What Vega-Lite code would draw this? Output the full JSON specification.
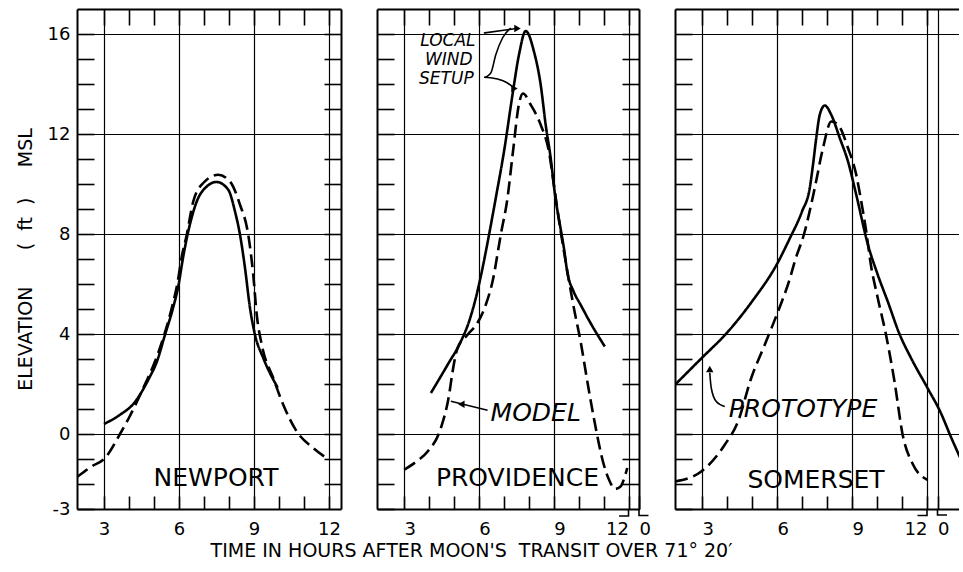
{
  "$schema": "https://vega.github.io/schema/vega-lite/v6.json",
  "background": "white",
  "padding": {"left": 16, "top": 8, "right": 0, "bottom": 0},
  "bounds": "flush",
  "spacing": 36,
  "title": {
    "text": "TIME IN HOURS AFTER MOON'S\u00a0\u00a0TRANSIT OVER 71° 20′",
    "orient": "bottom",
    "anchor": "middle",
    "font": "DejaVu Sans",
    "fontSize": 19,
    "fontWeight": "normal",
    "color": "black",
    "offset": 4,
    "dx": -16
  },
  "datasets": {
    "curves": [
      {"s": "Newport", "m": "PROTOTYPE", "h": 3.0, "ft": 0.4},
      {"s": "Newport", "m": "PROTOTYPE", "h": 3.64, "ft": 0.77},
      {"s": "Newport", "m": "PROTOTYPE", "h": 4.17, "ft": 1.2},
      {"s": "Newport", "m": "PROTOTYPE", "h": 4.84, "ft": 2.3},
      {"s": "Newport", "m": "PROTOTYPE", "h": 5.1, "ft": 2.85},
      {"s": "Newport", "m": "PROTOTYPE", "h": 5.44, "ft": 3.97},
      {"s": "Newport", "m": "PROTOTYPE", "h": 5.75, "ft": 5.0},
      {"s": "Newport", "m": "PROTOTYPE", "h": 5.97, "ft": 5.9},
      {"s": "Newport", "m": "PROTOTYPE", "h": 6.17, "ft": 7.1},
      {"s": "Newport", "m": "PROTOTYPE", "h": 6.37, "ft": 8.1},
      {"s": "Newport", "m": "PROTOTYPE", "h": 6.71, "ft": 9.3},
      {"s": "Newport", "m": "PROTOTYPE", "h": 7.11, "ft": 9.9},
      {"s": "Newport", "m": "PROTOTYPE", "h": 7.5, "ft": 10.08},
      {"s": "Newport", "m": "PROTOTYPE", "h": 7.97, "ft": 9.77},
      {"s": "Newport", "m": "PROTOTYPE", "h": 8.24, "ft": 8.9},
      {"s": "Newport", "m": "PROTOTYPE", "h": 8.44, "ft": 7.97},
      {"s": "Newport", "m": "PROTOTYPE", "h": 8.64, "ft": 6.64},
      {"s": "Newport", "m": "PROTOTYPE", "h": 8.84, "ft": 5.04},
      {"s": "Newport", "m": "PROTOTYPE", "h": 9.04, "ft": 3.97},
      {"s": "Newport", "m": "PROTOTYPE", "h": 9.37, "ft": 3.04},
      {"s": "Newport", "m": "PROTOTYPE", "h": 9.95, "ft": 1.85},

      {"s": "Newport", "m": "MODEL", "h": 1.92, "ft": -1.72},
      {"s": "Newport", "m": "MODEL", "h": 2.5, "ft": -1.3},
      {"s": "Newport", "m": "MODEL", "h": 3.04, "ft": -0.96},
      {"s": "Newport", "m": "MODEL", "h": 3.64, "ft": 0.0},
      {"s": "Newport", "m": "MODEL", "h": 4.0, "ft": 0.65},
      {"s": "Newport", "m": "MODEL", "h": 4.57, "ft": 1.84},
      {"s": "Newport", "m": "MODEL", "h": 5.0, "ft": 2.8},
      {"s": "Newport", "m": "MODEL", "h": 5.37, "ft": 3.84},
      {"s": "Newport", "m": "MODEL", "h": 5.7, "ft": 5.0},
      {"s": "Newport", "m": "MODEL", "h": 5.95, "ft": 6.1},
      {"s": "Newport", "m": "MODEL", "h": 6.1, "ft": 7.04},
      {"s": "Newport", "m": "MODEL", "h": 6.31, "ft": 7.97},
      {"s": "Newport", "m": "MODEL", "h": 6.57, "ft": 9.3},
      {"s": "Newport", "m": "MODEL", "h": 6.97, "ft": 10.04},
      {"s": "Newport", "m": "MODEL", "h": 7.57, "ft": 10.37},
      {"s": "Newport", "m": "MODEL", "h": 8.04, "ft": 10.1},
      {"s": "Newport", "m": "MODEL", "h": 8.44, "ft": 9.17},
      {"s": "Newport", "m": "MODEL", "h": 8.77, "ft": 7.97},
      {"s": "Newport", "m": "MODEL", "h": 8.97, "ft": 6.37},
      {"s": "Newport", "m": "MODEL", "h": 9.11, "ft": 4.77},
      {"s": "Newport", "m": "MODEL", "h": 9.31, "ft": 3.57},
      {"s": "Newport", "m": "MODEL", "h": 9.77, "ft": 2.24},
      {"s": "Newport", "m": "MODEL", "h": 10.17, "ft": 1.17},
      {"s": "Newport", "m": "MODEL", "h": 10.71, "ft": 0.1},
      {"s": "Newport", "m": "MODEL", "h": 11.37, "ft": -0.56},
      {"s": "Newport", "m": "MODEL", "h": 12.0, "ft": -1.03},

      {"s": "Providence", "m": "PROTOTYPE", "h": 4.08, "ft": 1.64},
      {"s": "Providence", "m": "PROTOTYPE", "h": 4.75, "ft": 2.77},
      {"s": "Providence", "m": "PROTOTYPE", "h": 5.28, "ft": 3.7},
      {"s": "Providence", "m": "PROTOTYPE", "h": 5.61, "ft": 4.5},
      {"s": "Providence", "m": "PROTOTYPE", "h": 5.88, "ft": 5.44},
      {"s": "Providence", "m": "PROTOTYPE", "h": 6.15, "ft": 6.64},
      {"s": "Providence", "m": "PROTOTYPE", "h": 6.41, "ft": 7.97},
      {"s": "Providence", "m": "PROTOTYPE", "h": 6.68, "ft": 9.44},
      {"s": "Providence", "m": "PROTOTYPE", "h": 7.01, "ft": 11.3},
      {"s": "Providence", "m": "PROTOTYPE", "h": 7.35, "ft": 13.57},
      {"s": "Providence", "m": "PROTOTYPE", "h": 7.61, "ft": 15.17},
      {"s": "Providence", "m": "PROTOTYPE", "h": 7.88, "ft": 16.12},
      {"s": "Providence", "m": "PROTOTYPE", "h": 8.21, "ft": 15.3},
      {"s": "Providence", "m": "PROTOTYPE", "h": 8.48, "ft": 13.97},
      {"s": "Providence", "m": "PROTOTYPE", "h": 8.68, "ft": 12.37},
      {"s": "Providence", "m": "PROTOTYPE", "h": 8.88, "ft": 11.04},
      {"s": "Providence", "m": "PROTOTYPE", "h": 9.05, "ft": 9.6},
      {"s": "Providence", "m": "PROTOTYPE", "h": 9.28, "ft": 8.2},
      {"s": "Providence", "m": "PROTOTYPE", "h": 9.41, "ft": 7.44},
      {"s": "Providence", "m": "PROTOTYPE", "h": 9.55, "ft": 6.45},
      {"s": "Providence", "m": "PROTOTYPE", "h": 9.8, "ft": 5.7},
      {"s": "Providence", "m": "PROTOTYPE", "h": 10.08, "ft": 5.17},
      {"s": "Providence", "m": "PROTOTYPE", "h": 10.5, "ft": 4.4},
      {"s": "Providence", "m": "PROTOTYPE", "h": 11.05, "ft": 3.5},

      {"s": "Providence", "m": "MODEL", "h": 3.01, "ft": -1.43},
      {"s": "Providence", "m": "MODEL", "h": 3.5, "ft": -1.1},
      {"s": "Providence", "m": "MODEL", "h": 3.95, "ft": -0.7},
      {"s": "Providence", "m": "MODEL", "h": 4.48, "ft": 0.24},
      {"s": "Providence", "m": "MODEL", "h": 4.81, "ft": 1.57},
      {"s": "Providence", "m": "MODEL", "h": 4.95, "ft": 2.5},
      {"s": "Providence", "m": "MODEL", "h": 5.15, "ft": 3.44},
      {"s": "Providence", "m": "MODEL", "h": 5.55, "ft": 3.97},
      {"s": "Providence", "m": "MODEL", "h": 5.95, "ft": 4.45},
      {"s": "Providence", "m": "MODEL", "h": 6.28, "ft": 5.17},
      {"s": "Providence", "m": "MODEL", "h": 6.55, "ft": 6.1},
      {"s": "Providence", "m": "MODEL", "h": 6.88, "ft": 7.97},
      {"s": "Providence", "m": "MODEL", "h": 7.15, "ft": 9.44},
      {"s": "Providence", "m": "MODEL", "h": 7.37, "ft": 11.3},
      {"s": "Providence", "m": "MODEL", "h": 7.61, "ft": 13.2},
      {"s": "Providence", "m": "MODEL", "h": 7.77, "ft": 13.62},
      {"s": "Providence", "m": "MODEL", "h": 8.08, "ft": 13.17},
      {"s": "Providence", "m": "MODEL", "h": 8.48, "ft": 12.37},
      {"s": "Providence", "m": "MODEL", "h": 8.81, "ft": 11.3},
      {"s": "Providence", "m": "MODEL", "h": 9.01, "ft": 9.97},
      {"s": "Providence", "m": "MODEL", "h": 9.18, "ft": 8.77},
      {"s": "Providence", "m": "MODEL", "h": 9.55, "ft": 6.5},
      {"s": "Providence", "m": "MODEL", "h": 9.81, "ft": 5.04},
      {"s": "Providence", "m": "MODEL", "h": 10.08, "ft": 3.7},
      {"s": "Providence", "m": "MODEL", "h": 10.35, "ft": 2.1},
      {"s": "Providence", "m": "MODEL", "h": 10.61, "ft": 0.64},
      {"s": "Providence", "m": "MODEL", "h": 11.01, "ft": -1.23},
      {"s": "Providence", "m": "MODEL", "h": 11.25, "ft": -1.9},
      {"s": "Providence", "m": "MODEL", "h": 11.45, "ft": -2.2},
      {"s": "Providence", "m": "MODEL", "h": 11.68, "ft": -2.1},
      {"s": "Providence", "m": "MODEL", "h": 11.85, "ft": -1.7},
      {"s": "Providence", "m": "MODEL", "h": 11.95, "ft": -1.36},

      {"s": "Somerset", "m": "PROTOTYPE", "h": 1.92, "ft": 1.97},
      {"s": "Somerset", "m": "PROTOTYPE", "h": 3.0, "ft": 3.05},
      {"s": "Somerset", "m": "PROTOTYPE", "h": 4.0, "ft": 4.05},
      {"s": "Somerset", "m": "PROTOTYPE", "h": 5.0, "ft": 5.3},
      {"s": "Somerset", "m": "PROTOTYPE", "h": 6.0, "ft": 6.8},
      {"s": "Somerset", "m": "PROTOTYPE", "h": 6.5, "ft": 7.8},
      {"s": "Somerset", "m": "PROTOTYPE", "h": 7.0, "ft": 8.9},
      {"s": "Somerset", "m": "PROTOTYPE", "h": 7.31, "ft": 9.84},
      {"s": "Somerset", "m": "PROTOTYPE", "h": 7.44, "ft": 10.77},
      {"s": "Somerset", "m": "PROTOTYPE", "h": 7.57, "ft": 11.84},
      {"s": "Somerset", "m": "PROTOTYPE", "h": 7.71, "ft": 12.77},
      {"s": "Somerset", "m": "PROTOTYPE", "h": 7.91, "ft": 13.14},
      {"s": "Somerset", "m": "PROTOTYPE", "h": 8.17, "ft": 12.77},
      {"s": "Somerset", "m": "PROTOTYPE", "h": 8.51, "ft": 11.84},
      {"s": "Somerset", "m": "PROTOTYPE", "h": 8.84, "ft": 10.9},
      {"s": "Somerset", "m": "PROTOTYPE", "h": 9.17, "ft": 9.57},
      {"s": "Somerset", "m": "PROTOTYPE", "h": 9.63, "ft": 7.6},
      {"s": "Somerset", "m": "PROTOTYPE", "h": 10.03, "ft": 6.37},
      {"s": "Somerset", "m": "PROTOTYPE", "h": 10.43, "ft": 5.3},
      {"s": "Somerset", "m": "PROTOTYPE", "h": 10.9, "ft": 4.0},
      {"s": "Somerset", "m": "PROTOTYPE", "h": 11.36, "ft": 3.04},
      {"s": "Somerset", "m": "PROTOTYPE", "h": 12.02, "ft": 1.84},
      {"s": "Somerset", "m": "PROTOTYPE", "h": 12.55, "ft": 0.85},
      {"s": "Somerset", "m": "PROTOTYPE", "h": 12.95, "ft": -0.1},
      {"s": "Somerset", "m": "PROTOTYPE", "h": 13.35, "ft": -1.0},

      {"s": "Somerset", "m": "MODEL", "h": 1.92, "ft": -1.9},
      {"s": "Somerset", "m": "MODEL", "h": 2.97, "ft": -1.5},
      {"s": "Somerset", "m": "MODEL", "h": 3.91, "ft": -0.43},
      {"s": "Somerset", "m": "MODEL", "h": 4.44, "ft": 0.5},
      {"s": "Somerset", "m": "MODEL", "h": 4.97, "ft": 2.24},
      {"s": "Somerset", "m": "MODEL", "h": 5.51, "ft": 3.57},
      {"s": "Somerset", "m": "MODEL", "h": 6.04, "ft": 4.9},
      {"s": "Somerset", "m": "MODEL", "h": 6.51, "ft": 6.2},
      {"s": "Somerset", "m": "MODEL", "h": 6.71, "ft": 6.9},
      {"s": "Somerset", "m": "MODEL", "h": 7.11, "ft": 8.1},
      {"s": "Somerset", "m": "MODEL", "h": 7.51, "ft": 9.84},
      {"s": "Somerset", "m": "MODEL", "h": 7.84, "ft": 11.44},
      {"s": "Somerset", "m": "MODEL", "h": 8.17, "ft": 12.5},
      {"s": "Somerset", "m": "MODEL", "h": 8.44, "ft": 12.37},
      {"s": "Somerset", "m": "MODEL", "h": 8.84, "ft": 11.44},
      {"s": "Somerset", "m": "MODEL", "h": 9.17, "ft": 10.37},
      {"s": "Somerset", "m": "MODEL", "h": 9.37, "ft": 9.3},
      {"s": "Somerset", "m": "MODEL", "h": 9.57, "ft": 8.1},
      {"s": "Somerset", "m": "MODEL", "h": 9.75, "ft": 6.8},
      {"s": "Somerset", "m": "MODEL", "h": 10.03, "ft": 5.44},
      {"s": "Somerset", "m": "MODEL", "h": 10.36, "ft": 3.97},
      {"s": "Somerset", "m": "MODEL", "h": 10.7, "ft": 2.1},
      {"s": "Somerset", "m": "MODEL", "h": 11.03, "ft": -0.05},
      {"s": "Somerset", "m": "MODEL", "h": 11.43, "ft": -1.2},
      {"s": "Somerset", "m": "MODEL", "h": 12.01, "ft": -1.83}
    ],
    "names": [
      {"s": "Newport", "name": "NEWPORT", "h": 7.48, "ft": -1.76},
      {"s": "Providence", "name": "PROVIDENCE", "h": 7.55, "ft": -1.76},
      {"s": "Somerset", "name": "SOMERSET", "h": 7.56, "ft": -1.83}
    ],
    "notes": [
      {"s": "Providence", "kind": "key", "text": "MODEL", "h": 8.28, "ft": 0.84},
      {"s": "Somerset", "kind": "key", "text": "PROTOTYPE", "h": 7.04, "ft": 1.0},
      {"s": "Providence", "kind": "setup", "text": "LOCAL", "h": 4.76, "ft": 15.74},
      {"s": "Providence", "kind": "setup", "text": "WIND", "h": 4.8, "ft": 14.97},
      {"s": "Providence", "kind": "setup", "text": "SETUP", "h": 4.7, "ft": 14.2}
    ],
    "leaders": [
      {"s": "Providence", "id": "local", "k": 0, "h": 6.2, "ft": 16.04},
      {"s": "Providence", "id": "local", "k": 1, "h": 7.0, "ft": 16.15},
      {"s": "Providence", "id": "local", "k": 2, "h": 7.5, "ft": 16.22},
      {"s": "Providence", "id": "setup", "k": 0, "h": 7.28, "ft": 16.24},
      {"s": "Providence", "id": "setup", "k": 1, "h": 6.95, "ft": 15.84},
      {"s": "Providence", "id": "setup", "k": 2, "h": 6.68, "ft": 15.17},
      {"s": "Providence", "id": "setup", "k": 3, "h": 6.48, "ft": 14.44},
      {"s": "Providence", "id": "setup", "k": 4, "h": 6.21, "ft": 14.27},
      {"s": "Providence", "id": "setup", "k": 5, "h": 6.75, "ft": 14.2},
      {"s": "Providence", "id": "setup", "k": 6, "h": 7.15, "ft": 14.04},
      {"s": "Providence", "id": "setup", "k": 7, "h": 7.41, "ft": 13.84},
      {"s": "Providence", "id": "model", "k": 0, "h": 4.88, "ft": 1.31},
      {"s": "Providence", "id": "model", "k": 1, "h": 6.35, "ft": 0.95},
      {"s": "Somerset", "id": "proto", "k": 0, "h": 3.91, "ft": 1.1},
      {"s": "Somerset", "id": "proto", "k": 1, "h": 3.57, "ft": 1.3},
      {"s": "Somerset", "id": "proto", "k": 2, "h": 3.37, "ft": 1.84},
      {"s": "Somerset", "id": "proto", "k": 3, "h": 3.31, "ft": 2.45},
      {"s": "Providence", "id": "b12", "k": 0, "h": 11.62, "ft": -3.28},
      {"s": "Providence", "id": "b12", "k": 1, "h": 12.0, "ft": -3.28},
      {"s": "Providence", "id": "b12", "k": 2, "h": 12.0, "ft": -3.0},
      {"s": "Providence", "id": "b0", "k": 0, "h": 12.42, "ft": -3.0},
      {"s": "Providence", "id": "b0", "k": 1, "h": 12.42, "ft": -3.26},
      {"s": "Providence", "id": "b0", "k": 2, "h": 12.8, "ft": -3.26},
      {"s": "Somerset", "id": "b12", "k": 0, "h": 11.62, "ft": -3.26},
      {"s": "Somerset", "id": "b12", "k": 1, "h": 12.0, "ft": -3.26},
      {"s": "Somerset", "id": "b12", "k": 2, "h": 12.0, "ft": -3.0},
      {"s": "Somerset", "id": "b0", "k": 0, "h": 12.42, "ft": -3.0},
      {"s": "Somerset", "id": "b0", "k": 1, "h": 12.42, "ft": -3.24},
      {"s": "Somerset", "id": "b0", "k": 2, "h": 12.8, "ft": -3.24}
    ],
    "tips": [
      {"s": "Providence", "dir": "right", "h": 7.55, "ft": 16.22},
      {"s": "Providence", "dir": "right", "h": 7.43, "ft": 13.82},
      {"s": "Providence", "dir": "left", "h": 5.3, "ft": 1.19},
      {"s": "Somerset", "dir": "up", "h": 3.31, "ft": 2.6}
    ]
  },
  "hconcat": [
    {
      "width": 264,
      "height": 500,
      "layer": [
        {
          "data": {"name": "curves"},
          "transform": [{"filter": "datum.s === 'Newport'"}],
          "mark": {"type": "line", "interpolate": "monotone", "strokeWidth": 2.6, "color": "black", "clip": true},
          "encoding": {
            "x": {"field": "h", "type": "quantitative",
              "scale": {"domain": [1.92, 12.48], "nice": false, "zero": false},
              "axis": {"orient": "bottom", "values": [3, 4, 5, 6, 7, 8, 9, 10, 11, 12],
                "labelExpr": "datum.value % 3 === 0 ? '' + datum.value : ''",
                "grid": true,
                "gridOpacity": {"condition": {"test": "datum.value % 3 === 0", "value": 1}, "value": 0},
                "tickSize": -13, "labelPadding": 24, "title": null}},
            "y": {"field": "ft", "type": "quantitative",
              "scale": {"domain": [-3, 17], "nice": false, "zero": false},
              "axis": {"orient": "left", "values": [-3, -2, -1, 0, 1, 2, 3, 4, 5, 6, 7, 8, 9, 10, 11, 12, 13, 14, 15, 16],
                "labelExpr": "(datum.value % 4 === 0 || datum.value === -3) ? '' + datum.value : ''",
                "grid": true,
                "gridOpacity": {"condition": {"test": "datum.value % 4 === 0", "value": 1}, "value": 0},
                "tickSize": -17, "labelPadding": 24,
                "title": "\u00a0\u00a0\u00a0ELEVATION\u00a0\u00a0\u00a0\u00a0\u00a0\u00a0(\u00a0\u00a0ft\u00a0\u00a0)\u00a0\u00a0\u00a0\u00a0\u00a0MSL",
                "titlePadding": 12}},
            "strokeDash": {"field": "m", "type": "nominal",
              "scale": {"domain": ["PROTOTYPE", "MODEL"], "range": [[1, 0], [13, 6]]}, "legend": null}
          }
        },
        {
          "data": {"name": "names"},
          "transform": [{"filter": "datum.s === 'Newport'"}],
          "mark": {"type": "text", "font": "DejaVu Sans", "fontSize": 25, "color": "black"},
          "encoding": {
            "x": {"field": "h", "type": "quantitative",
              "scale": {"domain": [1.92, 12.48], "nice": false, "zero": false},
              "axis": {"orient": "top", "values": [3, 4, 5, 6, 7, 8, 9, 10, 11, 12], "labels": false, "grid": false, "tickSize": -16, "title": null}},
            "y": {"field": "ft", "type": "quantitative",
              "scale": {"domain": [-3, 17], "nice": false, "zero": false},
              "axis": {"orient": "right", "values": [-2, -1, 0, 1, 2, 3, 4, 5, 6, 7, 8, 9, 10, 11, 12, 13, 14, 15, 16], "labels": false, "grid": false, "tickSize": -17, "title": null}},
            "text": {"field": "name"}
          }
        }
      ]
    },
    {
      "width": 262,
      "height": 500,
      "layer": [
        {
          "data": {"name": "curves"},
          "transform": [{"filter": "datum.s === 'Providence'"}],
          "mark": {"type": "line", "interpolate": "monotone", "strokeWidth": 2.6, "color": "black", "clip": true},
          "encoding": {
            "x": {"field": "h", "type": "quantitative",
              "scale": {"domain": [1.92, 12.42], "nice": false, "zero": false},
              "axis": {"orient": "bottom", "values": [3, 4, 5, 6, 7, 8, 9, 10, 11, 12, 12.42],
                "labelExpr": "datum.value === 12.42 ? '0' : datum.value % 3 === 0 ? '' + datum.value : ''",
                "labelAlign": {"condition": {"test": "datum.value === 12", "value": "right"}, "value": {"expr": "datum.value === 12.42 ? 'left' : 'center'"}},
                "grid": true,
                "gridOpacity": {"condition": {"test": "datum.value % 3 === 0", "value": 1}, "value": 0},
                "tickSize": -13, "labelPadding": 24, "title": null}},
            "y": {"field": "ft", "type": "quantitative",
              "scale": {"domain": [-3, 17], "nice": false, "zero": false},
              "axis": {"orient": "left", "values": [-3, -2, -1, 0, 1, 2, 3, 4, 5, 6, 7, 8, 9, 10, 11, 12, 13, 14, 15, 16],
                "labels": false,
                "grid": true,
                "gridOpacity": {"condition": {"test": "datum.value % 4 === 0", "value": 1}, "value": 0},
                "tickSize": -17, "title": null}},
            "strokeDash": {"field": "m", "type": "nominal",
              "scale": {"domain": ["PROTOTYPE", "MODEL"], "range": [[1, 0], [13, 6]]}, "legend": null}
          }
        },
        {
          "data": {"name": "names"},
          "transform": [{"filter": "datum.s === 'Providence'"}],
          "mark": {"type": "text", "font": "DejaVu Sans", "fontSize": 25, "color": "black"},
          "encoding": {
            "x": {"field": "h", "type": "quantitative",
              "scale": {"domain": [1.92, 12.42], "nice": false, "zero": false},
              "axis": {"orient": "top", "values": [3, 4, 5, 6, 7, 8, 9, 10, 11, 12], "labels": false, "grid": false, "tickSize": -16, "title": null}},
            "y": {"field": "ft", "type": "quantitative",
              "scale": {"domain": [-3, 17], "nice": false, "zero": false},
              "axis": {"orient": "right", "values": [-2, -1, 0, 1, 2, 3, 4, 5, 6, 7, 8, 9, 10, 11, 12, 13, 14, 15, 16], "labels": false, "grid": false, "tickSize": -17, "title": null}},
            "text": {"field": "name"}
          }
        },
        {
          "data": {"name": "notes"},
          "transform": [{"filter": "datum.s === 'Providence' && datum.kind === 'key'"}],
          "mark": {"type": "text", "font": "DejaVu Sans", "fontSize": 25, "fontStyle": "italic", "color": "black"},
          "encoding": {
            "x": {"field": "h", "type": "quantitative", "axis": null},
            "y": {"field": "ft", "type": "quantitative", "axis": null},
            "text": {"field": "text"}
          }
        },
        {
          "data": {"name": "notes"},
          "transform": [{"filter": "datum.s === 'Providence' && datum.kind === 'setup'"}],
          "mark": {"type": "text", "font": "DejaVu Sans", "fontSize": 17, "fontStyle": "italic", "color": "black"},
          "encoding": {
            "x": {"field": "h", "type": "quantitative", "axis": null},
            "y": {"field": "ft", "type": "quantitative", "axis": null},
            "text": {"field": "text"}
          }
        },
        {
          "data": {"name": "leaders"},
          "transform": [{"filter": "datum.s === 'Providence'"}],
          "mark": {"type": "line", "interpolate": "monotone", "strokeWidth": 1.6, "color": "black"},
          "encoding": {
            "x": {"field": "h", "type": "quantitative", "axis": null},
            "y": {"field": "ft", "type": "quantitative", "axis": null},
            "detail": {"field": "id"},
            "order": {"field": "k"}
          }
        },
        {
          "data": {"name": "tips"},
          "transform": [{"filter": "datum.s === 'Providence'"}],
          "mark": {"type": "point", "filled": true, "color": "black", "opacity": 1, "size": 55},
          "encoding": {
            "x": {"field": "h", "type": "quantitative", "axis": null},
            "y": {"field": "ft", "type": "quantitative", "axis": null},
            "shape": {"field": "dir", "type": "nominal",
              "scale": {"domain": ["left", "right", "up"], "range": ["triangle-left", "triangle-right", "triangle-up"]}, "legend": null}
          }
        }
      ]
    },
    {
      "width": 284,
      "height": 500,
      "layer": [
        {
          "data": {"name": "curves"},
          "transform": [{"filter": "datum.s === 'Somerset'"}],
          "mark": {"type": "line", "interpolate": "monotone", "strokeWidth": 2.6, "color": "black", "clip": true},
          "encoding": {
            "x": {"field": "h", "type": "quantitative",
              "scale": {"domain": [1.92, 13.28], "nice": false, "zero": false},
              "axis": {"orient": "bottom", "values": [3, 4, 5, 6, 7, 8, 9, 10, 11, 12, 12.42],
                "labelExpr": "datum.value === 12.42 ? '0' : datum.value % 3 === 0 ? '' + datum.value : ''",
                "labelAlign": {"condition": {"test": "datum.value === 12", "value": "right"}, "value": {"expr": "datum.value === 12.42 ? 'left' : 'center'"}},
                "grid": true,
                "gridOpacity": {"condition": {"test": "datum.value % 3 === 0 || datum.value === 12.42", "value": 1}, "value": 0},
                "tickSize": -13, "labelPadding": 24, "title": null}},
            "y": {"field": "ft", "type": "quantitative",
              "scale": {"domain": [-3, 17], "nice": false, "zero": false},
              "axis": {"orient": "left", "values": [-3, -2, -1, 0, 1, 2, 3, 4, 5, 6, 7, 8, 9, 10, 11, 12, 13, 14, 15, 16],
                "labels": false,
                "grid": true,
                "gridOpacity": {"condition": {"test": "datum.value % 4 === 0", "value": 1}, "value": 0},
                "tickSize": -17, "title": null}},
            "strokeDash": {"field": "m", "type": "nominal",
              "scale": {"domain": ["PROTOTYPE", "MODEL"], "range": [[1, 0], [13, 6]]}, "legend": null}
          }
        },
        {
          "data": {"name": "names"},
          "transform": [{"filter": "datum.s === 'Somerset'"}],
          "mark": {"type": "text", "font": "DejaVu Sans", "fontSize": 25, "color": "black"},
          "encoding": {
            "x": {"field": "h", "type": "quantitative",
              "scale": {"domain": [1.92, 13.28], "nice": false, "zero": false},
              "axis": {"orient": "top", "values": [3, 4, 5, 6, 7, 8, 9, 10, 11, 12], "labels": false, "grid": false, "tickSize": -16, "title": null}},
            "y": {"field": "ft", "type": "quantitative",
              "scale": {"domain": [-3, 17], "nice": false, "zero": false},
              "axis": {"orient": "right", "domain": false, "ticks": false, "labels": false, "grid": false, "title": null}},
            "text": {"field": "name"}
          }
        },
        {
          "data": {"name": "notes"},
          "transform": [{"filter": "datum.s === 'Somerset' && datum.kind === 'key'"}],
          "mark": {"type": "text", "font": "DejaVu Sans", "fontSize": 25, "fontStyle": "italic", "color": "black"},
          "encoding": {
            "x": {"field": "h", "type": "quantitative", "axis": null},
            "y": {"field": "ft", "type": "quantitative", "axis": null},
            "text": {"field": "text"}
          }
        },
        {
          "data": {"name": "leaders"},
          "transform": [{"filter": "datum.s === 'Somerset'"}],
          "mark": {"type": "line", "interpolate": "monotone", "strokeWidth": 1.6, "color": "black"},
          "encoding": {
            "x": {"field": "h", "type": "quantitative", "axis": null},
            "y": {"field": "ft", "type": "quantitative", "axis": null},
            "detail": {"field": "id"},
            "order": {"field": "k"}
          }
        },
        {
          "data": {"name": "tips"},
          "transform": [{"filter": "datum.s === 'Somerset'"}],
          "mark": {"type": "point", "filled": true, "color": "black", "opacity": 1, "size": 55},
          "encoding": {
            "x": {"field": "h", "type": "quantitative", "axis": null},
            "y": {"field": "ft", "type": "quantitative", "axis": null},
            "shape": {"field": "dir", "type": "nominal",
              "scale": {"domain": ["left", "right", "up"], "range": ["triangle-left", "triangle-right", "triangle-up"]}, "legend": null}
          }
        }
      ]
    }
  ],
  "config": {
    "view": {"stroke": null},
    "axis": {
      "domainColor": "black", "domainWidth": 2,
      "tickColor": "black", "tickWidth": 1.6,
      "gridColor": "black", "gridWidth": 1.2,
      "labelFont": "DejaVu Sans", "labelFontSize": 18, "labelColor": "black",
      "labelFlush": false, "labelOverlap": false, "labelAngle": 0,
      "titleFont": "DejaVu Sans", "titleFontSize": 19, "titleFontWeight": "normal", "titleColor": "black"
    }
  }
}
